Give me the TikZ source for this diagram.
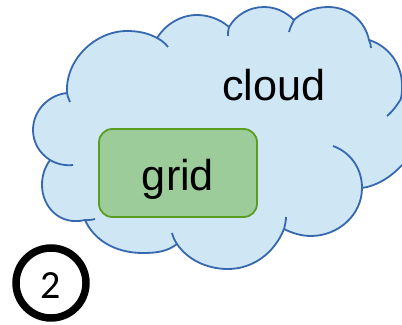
\documentclass[tikz,border=0pt]{standalone}
\usepackage{fontspec}
\setmainfont{Liberation Sans}
\newfontfamily\digitfont{Carlito}
\tikzset{every picture/.style={line width=0.75pt}}
\tikzset{
  cloudfill/.style={fill={rgb, 255:red, 207; green, 230; blue, 245}},
  cloudline/.style={draw={rgb, 255:red, 54; green, 104; blue, 176}, line width=1.35pt},
  gridbox/.style={draw={rgb, 255:red, 90; green, 158; blue, 32}, fill={rgb, 255:red, 156; green, 204; blue, 154}, line width=1.35pt, rounded corners=10pt, minimum width=118.5pt, minimum height=66pt, inner sep=0pt, text height=33pt, text depth=6.8pt},
  badge/.style={circle, draw=black, line width=5.6pt, minimum size=52.5pt, inner sep=0pt, text height=23.5pt, text depth=0pt},
}

\begin{document}
\begin{tikzpicture}[x=0.75pt,y=0.75pt,yscale=-1,xscale=1]
\path [use as bounding box, clip] (0,0) rectangle (402,324);

%Shape: Cloud
\fill [cloudfill] (67,93) .. controls (65,60) and (95,31) .. (127,31) .. controls (138,31) and (148,33) .. (157,38) .. controls (165,25) and (180,15) .. (197,15) .. controls (208,15) and (220,19) .. (229,27) .. controls (236,15) and (249,7) .. (264,7) .. controls (276,7) and (286,12) .. (294,20) .. controls (302,12) and (315,7) .. (328,7) .. controls (349,7) and (365,21) .. (369,40) .. controls (389,46) and (402,65) .. (402,85) .. controls (425,100) and (425,140) .. (402,165) .. controls (390,178) and (376,186) .. (362,188) .. controls (362,215) and (338,236) .. (311,236) .. controls (301,236) and (292,233) .. (284,229) .. controls (274,254) and (252,269) .. (228,269) .. controls (206,269) and (187,259) .. (177,244) .. controls (168,251) and (158,253) .. (143,253) .. controls (115,253) and (94,240) .. (85,220) .. controls (60,226) and (42,207) .. (42,185) .. controls (42,175) and (45,167) .. (50,160) .. controls (39,153) and (33,142) .. (33,130) .. controls (33,111) and (48,95) .. (67,93) -- cycle ;
%Curve Lines
\draw [cloudline] (70,102) .. controls (68,97) and (67,95) .. (67,93) .. controls (65,60) and (95,31) .. (127,31) .. controls (138,31) and (148,33) .. (157,38) .. controls (161,40) and (165,43) .. (168,47) ;
%Curve Lines
\draw [cloudline] (157,38) .. controls (165,25) and (180,15) .. (197,15) .. controls (208,15) and (220,19) .. (229,27) ;
%Curve Lines
\draw [cloudline] (228,36) .. controls (228,33) and (228,30) .. (229,27) .. controls (236,15) and (249,7) .. (264,7) .. controls (276,7) and (286,12) .. (294,20) ;
%Curve Lines
\draw [cloudline] (289,32) .. controls (290,28) and (292,24) .. (294,20) .. controls (302,12) and (315,7) .. (328,7) .. controls (349,7) and (365,21) .. (369,40) .. controls (370,43) and (371,45) .. (371,48) ;
%Curve Lines
\draw [cloudline] (369,40) .. controls (389,46) and (402,65) .. (402,85) .. controls (402,90) and (402,94) .. (401,98) ;
%Curve Lines
\draw [cloudline] (387,116) .. controls (393,111) and (398,104) .. (402,97) ;
%Curve Lines
\draw [cloudline] (402,165) .. controls (390,178) and (376,186) .. (362,188) ;
%Curve Lines
\draw [cloudline] (333,146) .. controls (350,152) and (362,168) .. (362,188) .. controls (362,215) and (338,236) .. (311,236) .. controls (301,236) and (292,233) .. (284,229) ;
%Curve Lines
\draw [cloudline] (286,217) .. controls (286,221) and (285,225) .. (284,229) .. controls (274,254) and (252,269) .. (228,269) .. controls (206,269) and (187,259) .. (177,244) .. controls (175,241) and (173,237) .. (172,233) ;
%Curve Lines
\draw [cloudline] (177,244) .. controls (168,251) and (158,253) .. (143,253) .. controls (115,253) and (94,240) .. (85,220) ;
%Curve Lines
\draw [cloudline] (95,219) .. controls (92,220) and (88,220) .. (85,220) .. controls (60,226) and (42,207) .. (42,185) .. controls (42,175) and (45,167) .. (50,160) ;
%Curve Lines
\draw [cloudline] (73,165) .. controls (65,166) and (57,164) .. (50,160) .. controls (39,153) and (33,142) .. (33,130) .. controls (33,111) and (48,95) .. (67,93) ;

% Text Node
\node [gridbox] (grid) at (178,173) {\fontsize{32.4}{36}\selectfont grid};
% Text Node
\node [inner sep=0pt] (cloud) at (273.8,85.5) {\fontsize{32.4}{36}\selectfont cloud};
% Text Node
\node [badge] (badge2) at (51,283) {\digitfont\fontsize{30}{34}\selectfont 2};
\end{tikzpicture}
\end{document}
